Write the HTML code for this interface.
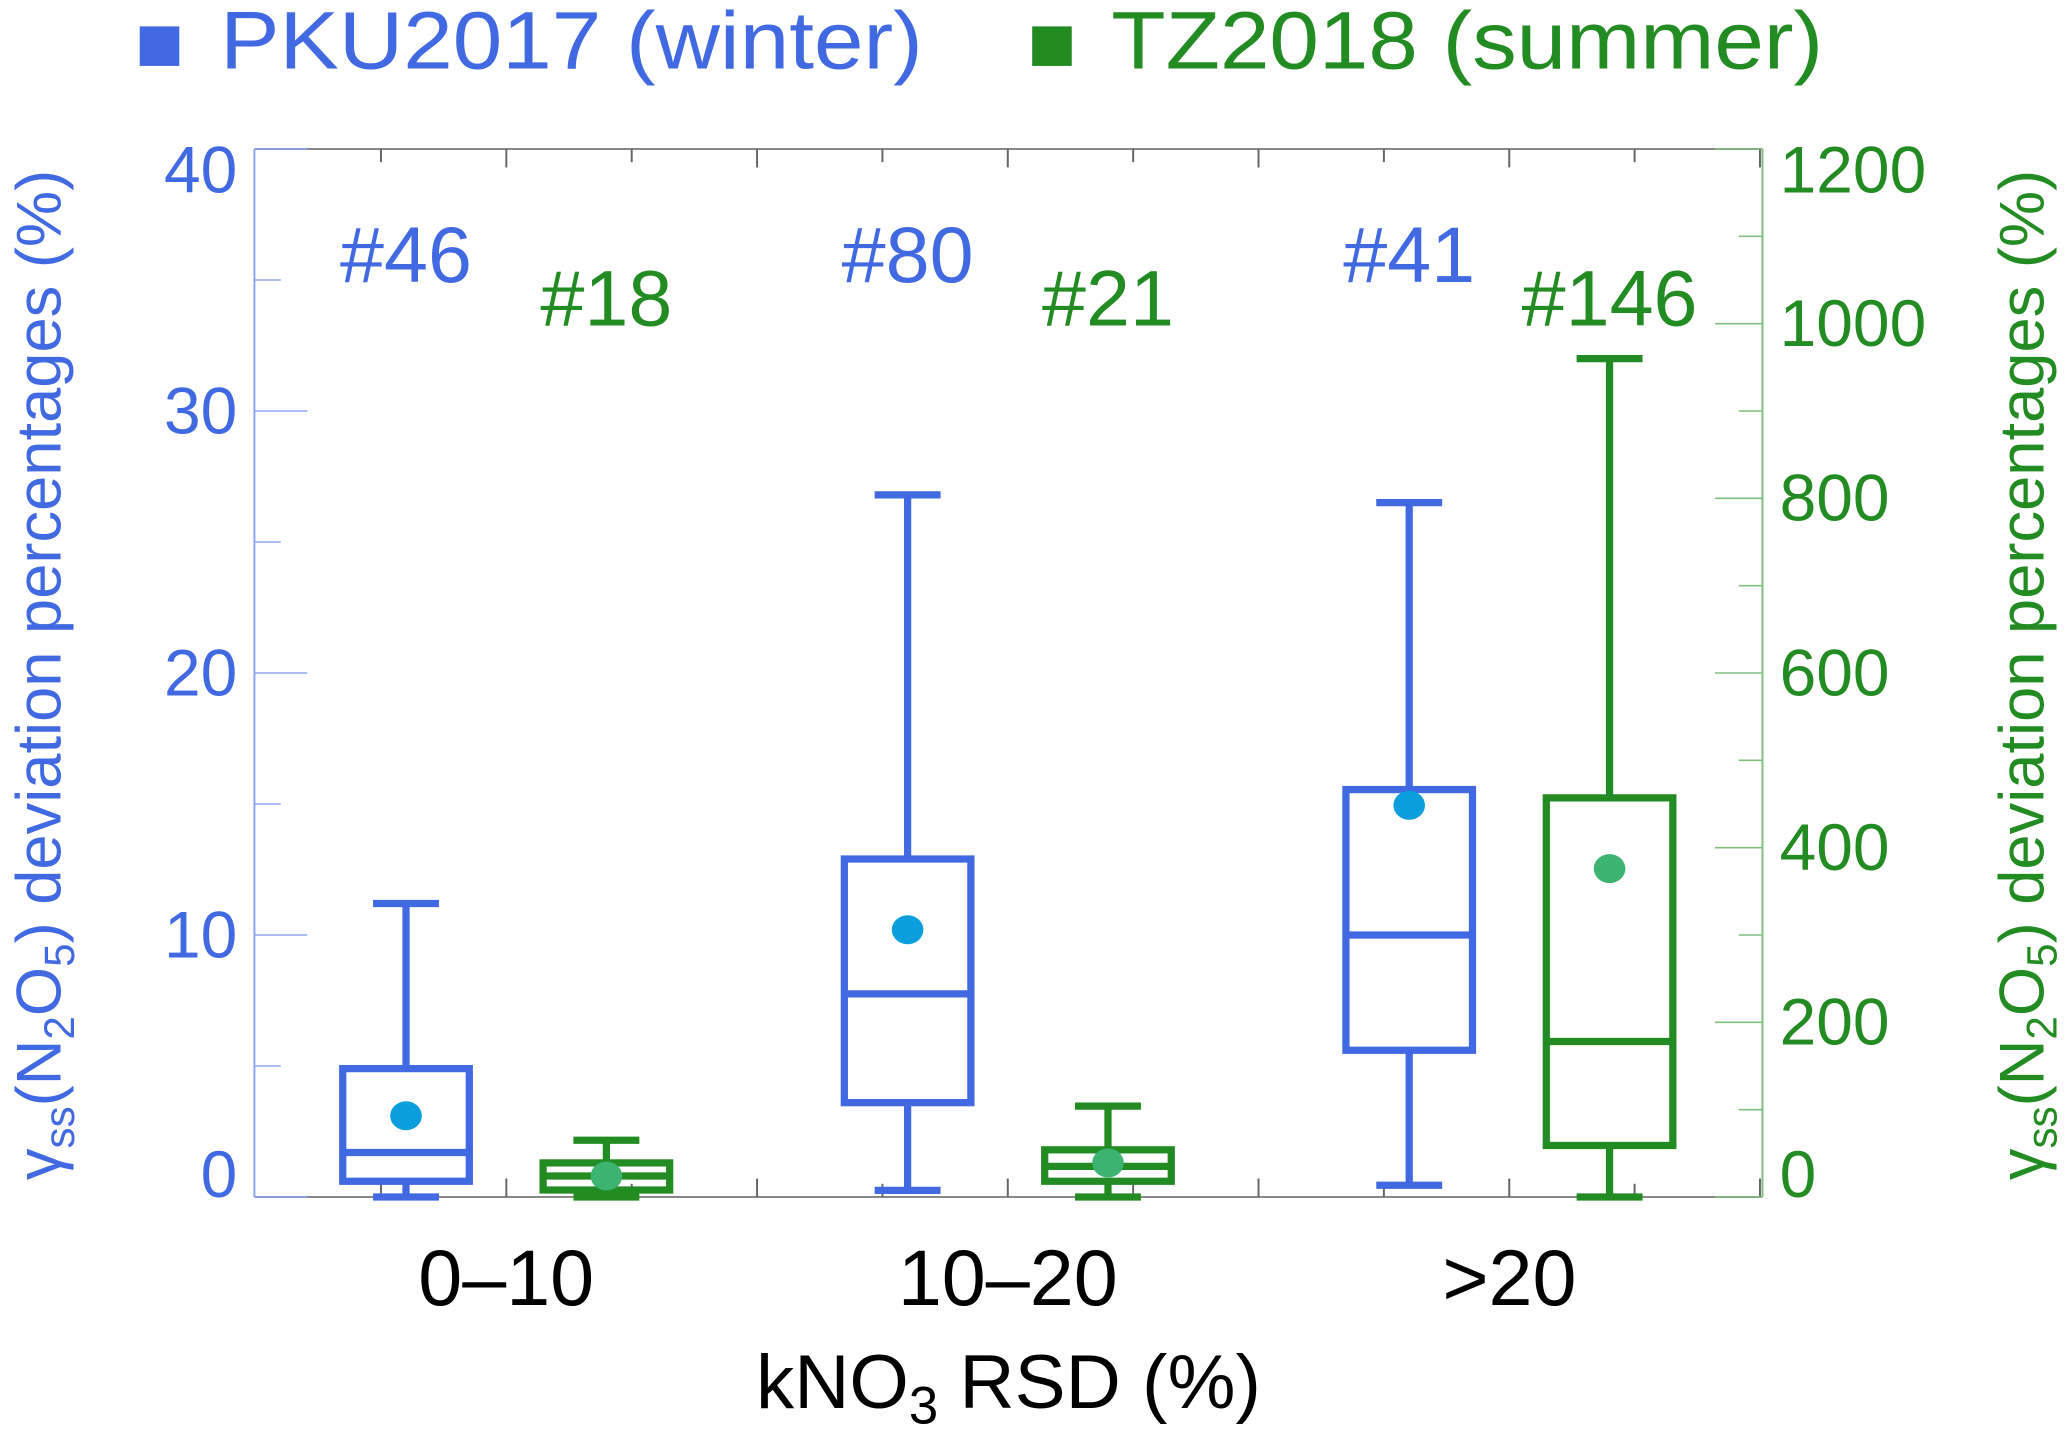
<!DOCTYPE html>
<html><head><meta charset="utf-8"><style>
html,body{margin:0;padding:0;background:#fff}
svg{display:block;font-family:"Liberation Sans",sans-serif}
</style></head><body>
<svg id="chart" width="2067" height="1431" viewBox="0 0 1568 1085.5" xmlns="http://www.w3.org/2000/svg">
<g id="legend">
 <rect x="106" y="20" width="30" height="30" fill="#4169e1"/>
 <text x="167" y="52" font-size="62" fill="#4169e1" textLength="533" lengthAdjust="spacingAndGlyphs">PKU2017 (winter)</text>
 <rect x="783" y="20" width="30" height="30" fill="#228b22"/>
 <text x="843" y="52" font-size="62" fill="#228b22" textLength="540" lengthAdjust="spacingAndGlyphs">TZ2018 (summer)</text>
</g>
<g id="axes"></g>
<g id="marks"></g>
<text x="765" y="1068" font-size="58" text-anchor="middle" fill="#000">kNO<tspan font-size="40" dy="12">3</tspan><tspan dy="-12"> RSD (%)</tspan></text>
<text transform="translate(46,512) rotate(-90)" font-size="48" text-anchor="middle" fill="#4169e1">γ<tspan font-size="32" dy="10">ss</tspan><tspan dy="-10">(N</tspan><tspan font-size="32" dy="10">2</tspan><tspan dy="-10">O</tspan><tspan font-size="32" dy="10">5</tspan><tspan dy="-10">) deviation percentages (%)</tspan></text>
<text transform="translate(1550,512) rotate(-90)" font-size="48" text-anchor="middle" fill="#228b22">γ<tspan font-size="32" dy="10">ss</tspan><tspan dy="-10">(N</tspan><tspan font-size="32" dy="10">2</tspan><tspan dy="-10">O</tspan><tspan font-size="32" dy="10">5</tspan><tspan dy="-10">) deviation percentages (%)</tspan></text>
</svg>
<script>
const categories = ["0\u201310", "10\u201320", ">20"];
const pkuCounts = ["#46", "#80", "#41"];
const tzCounts = ["#18", "#21", "#146"];
// PKU2017 (left axis, %)
const pkuMin = [0, 0.25, 0.45];
const pkuQ1 = [0.6, 3.6, 5.6];
const pkuMedian = [1.7, 7.75, 10];
const pkuQ3 = [4.9, 12.9, 15.55];
const pkuMax = [11.2, 26.8, 26.5];
const pkuMean = [3.1, 10.2, 14.95];
// TZ2018 (right axis, %)
const tzMin = [0, 0, 0];
const tzQ1 = [8, 18, 59];
const tzMedian = [24, 35, 178];
const tzQ3 = [39, 54, 457];
const tzMax = [65, 104, 960];
const tzMean = [24, 39, 376];
const leftTicks = [0, 10, 20, 30, 40];
const rightTicks = [0, 200, 400, 600, 800, 1000, 1200];

const NS = "http://www.w3.org/2000/svg";
const X0 = 193, X1 = 1337, Y0 = 908, Y1 = 113;
const yL = v => Y0 - (v / 40) * (Y0 - Y1);
const yR = v => Y0 - (v / 1200) * (Y0 - Y1);
const groupCenter = i => 384 + i * 380.5;
const BLUE = "#4169e1", GREEN = "#228b22";
function mk(tag, attrs, parent) {
  const e = document.createElementNS(NS, tag);
  for (const k in attrs) e.setAttribute(k, attrs[k]);
  parent.appendChild(e);
  return e;
}
function labelOffset(y) {
  if (y < Y1 + 5) return 33;
  if (y > Y0 - 5) return 0;
  return 17;
}
const axes = document.getElementById("axes");
const marks = document.getElementById("marks");

let e;
e = mk("line", {x1: X0, y1: Y1, x2: X1, y2: Y1, stroke: "#888", "stroke-width": 1.5}, axes);


e = mk("line", {x1: X0, y1: Y0, x2: X1, y2: Y0, stroke: "#888", "stroke-width": 1.5}, axes);


e = mk("line", {x1: X0, y1: Y1, x2: X0, y2: Y0, stroke: "#8fa6f0", "stroke-width": 1.5}, axes);


e = mk("line", {x1: X1, y1: Y1, x2: X1, y2: Y0, stroke: "#7fbf7f", "stroke-width": 1.5}, axes);



for (let k = 0; k < 12; k++) {
  const x = 289 + k * 95.1;
  if (x >= X1) break;
  const len = (k % 2 === 1) ? 14 : 10;
  e = mk("line", {x1: x, y1: Y1, x2: x, y2: Y1 + len, stroke: "#666", "stroke-width": 1.5}, axes);
  
  
  e = mk("line", {x1: x, y1: Y0, x2: x, y2: Y0 - len, stroke: "#666", "stroke-width": 1.5}, axes);
  
  
}
for (let v = 0; v <= 40; v += 5) {
  const major = v % 10 === 0;
  e = mk("line", {x1: X0, y1: yL(v), x2: X0 + (major ? 40 : 20), y2: yL(v), stroke: "#8fa6f0", "stroke-width": 1.2}, axes);
  
  
}
leftTicks.forEach(v => {
  const y = yL(v);
  e = mk("text", {x: 180, y: y + labelOffset(y), "font-size": 50, "text-anchor": "end", fill: BLUE}, axes);
  e.textContent = v;
  
  
});
for (let v = 0; v <= 1200; v += 100) {
  const major = v % 200 === 0;
  e = mk("line", {x1: X1, y1: yR(v), x2: X1 - (major ? 36 : 18), y2: yR(v), stroke: "#7fbf7f", "stroke-width": 1.2}, axes);
  
  
}
rightTicks.forEach(v => {
  const y = yR(v);
  e = mk("text", {x: 1350, y: y + labelOffset(y), "font-size": 50, fill: GREEN}, axes);
  e.textContent = v;
  
  
});
categories.forEach((c, i) => {
  e = mk("text", {x: groupCenter(i), y: 990, "font-size": 60, "text-anchor": "middle", fill: "#000"}, axes);
  e.textContent = c;
  
  
});

function drawBox(cx, mn, q1, md, q3, mx, mean, y, color, meanColor, name) {
  const g = mk("g", {}, marks);
  
  
  const w = 48, cap = 25, sw = 5.5;
  mk("line", {x1: cx, y1: y(mx), x2: cx, y2: y(q3), stroke: color, "stroke-width": sw}, g);
  mk("line", {x1: cx - cap, y1: y(mx), x2: cx + cap, y2: y(mx), stroke: color, "stroke-width": sw}, g);
  mk("line", {x1: cx, y1: y(q1), x2: cx, y2: y(mn), stroke: color, "stroke-width": sw}, g);
  mk("line", {x1: cx - cap, y1: y(mn), x2: cx + cap, y2: y(mn), stroke: color, "stroke-width": sw}, g);
  mk("rect", {x: cx - w, y: y(q3), width: 2 * w, height: y(q1) - y(q3), fill: "none", stroke: color, "stroke-width": sw}, g);
  mk("line", {x1: cx - w, y1: y(md), x2: cx + w, y2: y(md), stroke: color, "stroke-width": sw}, g);
  const m = mk("ellipse", {cx: cx, cy: y(mean), rx: 12, ry: 11, fill: meanColor}, g);
  
  
}
categories.forEach((c, i) => {
  const cb = groupCenter(i) - 76, cg = groupCenter(i) + 76;
  drawBox(cb, pkuMin[i], pkuQ1[i], pkuMedian[i], pkuQ3[i], pkuMax[i], pkuMean[i], yL, BLUE, "#0a9fdc", "pku-box-" + (i + 1));
  drawBox(cg, tzMin[i], tzQ1[i], tzMedian[i], tzQ3[i], tzMax[i], tzMean[i], yR, GREEN, "#3cb371", "tz-box-" + (i + 1));
  e = mk("text", {x: cb, y: 214, "font-size": 60, "text-anchor": "middle", fill: BLUE}, marks);
  e.textContent = pkuCounts[i];
  
  
  e = mk("text", {x: cg, y: 247, "font-size": 60, "text-anchor": "middle", fill: GREEN}, marks);
  e.textContent = tzCounts[i];
  
  
});
</script>
</body></html>
